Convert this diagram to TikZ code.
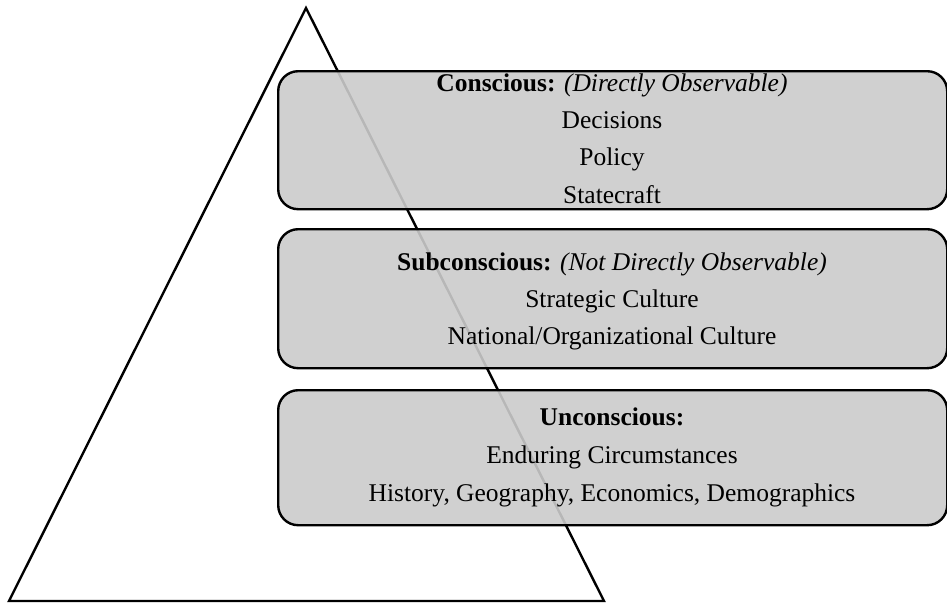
\documentclass[tikz,border=0pt]{standalone}
\usepackage{fontspec}
\setmainfont{Liberation Serif}
\begin{document}
\begin{tikzpicture}[x=1pt,y=-1pt,
  layerbox/.style={draw=black,line width=2.4pt,rounded corners=20pt,fill={rgb,255:red,203;green,203;blue,203},fill opacity=0.9,text opacity=1},
  txt/.style={font=\fontsize{25.5}{30}\selectfont,inner sep=0pt,anchor=base}]
\useasboundingbox (0,0) rectangle (947,605);
\coordinate (apex) at (306,8);
\coordinate (bl) at (9,601);
\coordinate (br) at (604,601);
\draw[line width=2.4pt,line join=miter] (apex) -- (bl) -- (br) -- cycle;
\node[layerbox,minimum width=669pt,minimum height=138pt,anchor=north west] (b1) at (277,70) {};
\node[layerbox,minimum width=669pt,minimum height=139pt,anchor=north west] (b2) at (277,228) {};
\node[layerbox,minimum width=669pt,minimum height=135pt,anchor=north west] (b3) at (277,389) {};
\node[txt] (t11) at (612,91) {\textbf{Conscious:} \textit{(Directly Observable)}};
\node[txt] (t12) at (612,128) {Decisions};
\node[txt] (t13) at (612,165) {Policy};
\node[txt] (t14) at (612,203) {Statecraft};
\node[txt] (t21) at (612,270) {\textbf{Subconscious:} \textit{(Not Directly Observable)}};
\node[txt] (t22) at (612,307) {Strategic Culture};
\node[txt] (t23) at (612,344) {National/Organizational Culture};
\node[txt] (t31) at (612,425) {\textbf{Unconscious:}};
\node[txt] (t32) at (612,463) {Enduring Circumstances};
\node[txt] (t33) at (612,501) {History, Geography, Economics, Demographics};
\end{tikzpicture}
\end{document}
